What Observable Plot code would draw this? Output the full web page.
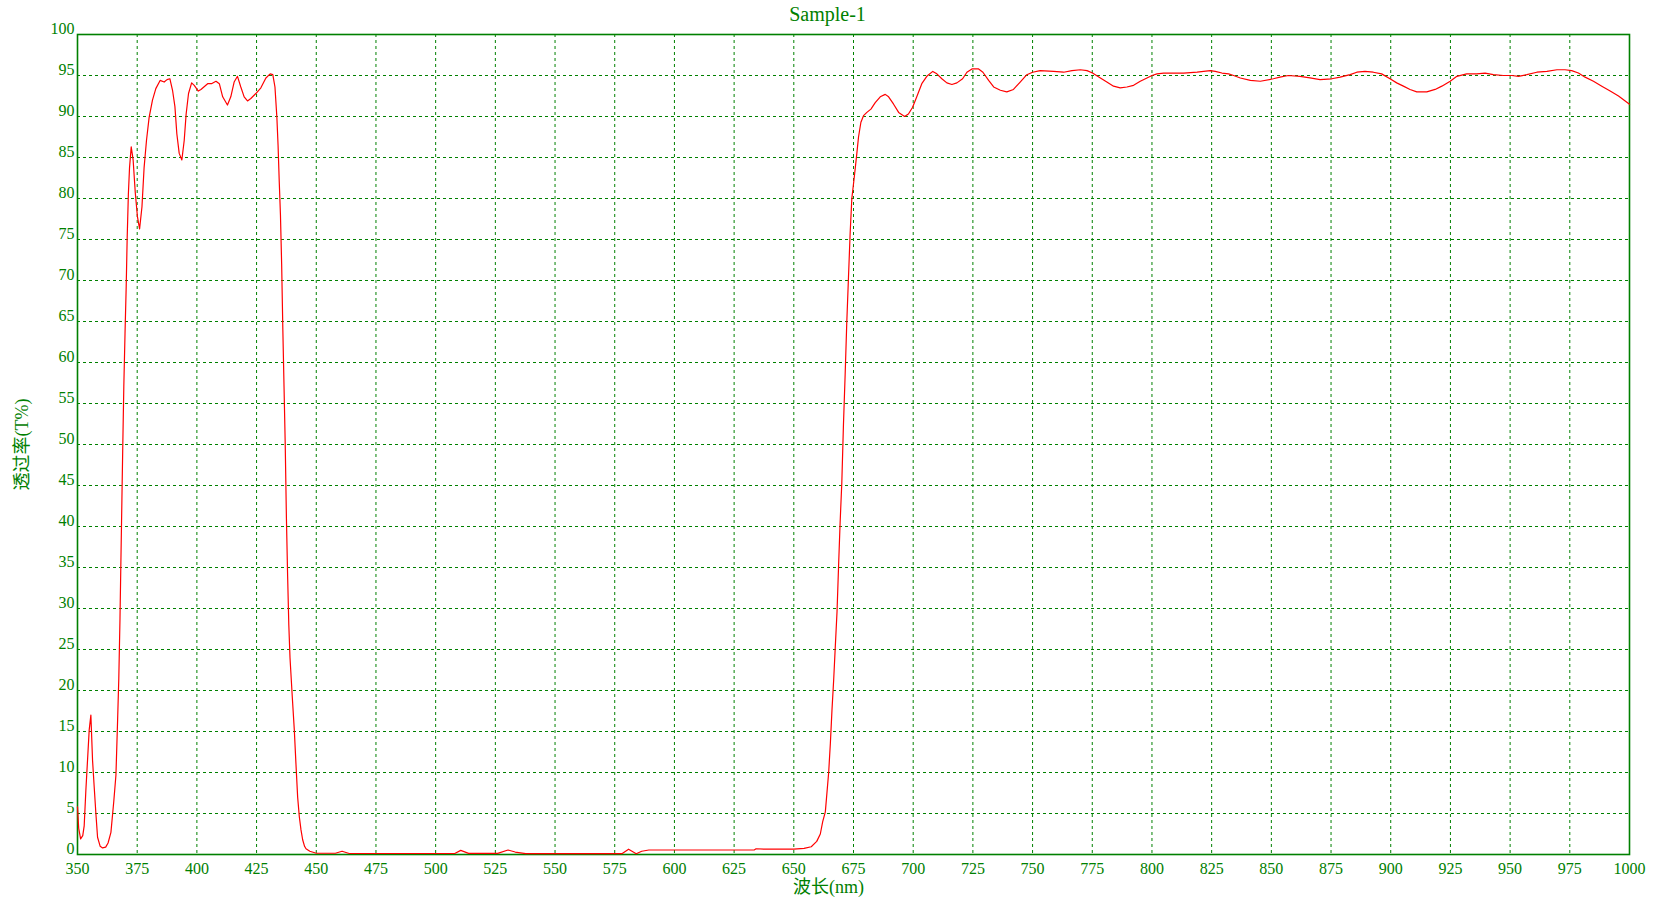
<!DOCTYPE html>
<html>
<head>
<meta charset="utf-8">
<script src="https://cdn.jsdelivr.net/npm/d3@7"></script>
<script src="https://cdn.jsdelivr.net/npm/@observablehq/plot@0.6"></script>
<style>
  html, body { margin: 0; padding: 0; background: #ffffff; }
  #chart { position: absolute; left: 0; top: 0; }
</style>
</head>
<body>
<div id="chart"></div>
<script>
const title = "Sample-1";
const xLabel = "波长(nm)";
const yLabel = "透过率(T%)";
const xTicks = [350,375,400,425,450,475,500,525,550,575,600,625,650,675,700,725,750,775,800,825,850,875,900,925,950,975,1000];
const yTicks = [0,5,10,15,20,25,30,35,40,45,50,55,60,65,70,75,80,85,90,95,100];

const wavelength = [
  350,350.5,351.3,352.2,352.8,353.5,354.2,354.9,355.6,356.3,357,357.7,358.4,359.5,360.5,361.8,362.8,364,365.2,366.1,
  366.8,367.3,367.8,368.2,368.6,369,369.4,369.9,370.4,370.8,371.3,371.8,372.5,373.3,374.2,375.1,376,377,377.9,378.9,
  380,381.4,382.8,384.6,386.3,387.5,388.7,389.8,390.8,391.6,392.6,393.7,394.7,395.5,396.5,397.8,398.9,400.6,401.7,404.5,
  406.1,408,409.4,410.8,412.8,414.2,415.6,417,418.4,419.8,421.2,422.6,424.7,426.8,428.9,430.7,431.8,432.7,433.5,434,
  434.5,435,435.5,436,436.5,437,437.5,438,438.5,439,440,440.8,441.5,442.2,442.9,443.6,444.3,445.1,445.7,447.3,
  450,458,460.8,463.8,508,510.5,513.8,526,530.3,533.3,537.7,578,580.8,584,586.3,589.3,633.4,634.2,637.9,650,
  654.3,657.3,659.6,661.1,662.1,663.2,664.6,665.3,666,666.7,667.4,668.1,668.8,669.4,670.1,670.8,671.5,672.2,672.9,673.6,
  674.3,675.4,676.4,677.1,678.1,679.2,680.6,682.3,684.1,686.2,688.3,689.7,691.8,693.9,696.4,698,699.7,701.5,703.6,705.7,
  708.2,709.9,712,714.1,716.2,718.3,720.7,722.5,724.6,727.4,729.2,731.6,733.7,736.5,739.2,742,744.8,747.6,750,753.2,
  758.8,763,766.5,770,772.8,775.1,778.4,781.1,783.9,786.7,789.5,792.3,795.1,797.9,800,802.1,804.9,813.3,818.9,824.4,
  826.5,829.3,832.1,834.2,837,841.2,845.4,850.8,853.6,857.1,862,866.2,870.4,875.3,878.8,883,885.8,889.2,892.7,896.2,
  899.7,902.5,905.3,908.1,910.9,915.1,918.6,921.4,924.9,927.7,931.8,936,939.5,943,947.2,950.7,953.5,957,961.2,965.4,
  969.6,973,975.8,978.6,981.4,984.9,988.4,991.9,995.4,998.2,1000
];
const transmittance = [
  5.8,3.2,1.9,2.3,3.5,7.8,11.5,15.2,17.0,11.5,8.2,5.0,2.1,1.0,0.8,0.9,1.4,2.7,6.5,9.7,
  16.4,21.5,28.8,36.2,43.3,50.5,57.1,63.5,69.3,75.1,80.5,83.8,86.3,84.7,80.7,77.8,76.3,79,83.8,87.1,
  89.9,92,93.4,94.4,94.2,94.5,94.6,93.2,91.2,87.9,85.5,84.7,87.1,90.3,92.8,94.1,93.8,93.1,93.3,94.0,
  94.0,94.3,94.0,92.4,91.4,92.4,94.2,94.9,93.6,92.4,91.9,92.2,92.8,93.5,94.7,95.2,95.1,93.6,89.9,86.5,
  82,78,72,64,57,50,41,34,28,24,19,15.2,11,7,4.6,3.0,1.8,1.0,0.7,0.4,
  0.15,0.15,0.4,0.12,0.12,0.5,0.13,0.13,0.55,0.3,0.1,0.1,0.65,0.1,0.4,0.55,0.55,0.7,0.65,0.65,
  0.75,0.95,1.6,2.5,4,5.2,10,13.5,17.7,21.3,25.5,29.6,35.6,40.5,45.3,52.5,58.5,65,70.4,75.8,
  80,82.8,85.5,87.5,89.3,90.1,90.5,90.9,91.7,92.4,92.7,92.4,91.5,90.5,90,90.3,91.1,92.4,94,94.9,
  95.5,95.2,94.6,94.1,93.9,94.1,94.6,95.4,95.8,95.8,95.4,94.4,93.6,93.2,93.0,93.3,94.2,95.1,95.4,95.6,
  95.5,95.4,95.6,95.7,95.6,95.3,94.7,94.2,93.7,93.5,93.6,93.8,94.3,94.7,95,95.2,95.3,95.3,95.4,95.6,
  95.5,95.3,95.2,95,94.7,94.4,94.3,94.6,94.8,95,94.9,94.7,94.5,94.6,94.8,95.1,95.4,95.5,95.4,95.2,
  94.6,94.1,93.7,93.3,93,93,93.3,93.7,94.3,94.9,95.2,95.2,95.3,95.1,95.0,95,94.9,95.1,95.4,95.5,
  95.7,95.7,95.6,95.3,94.8,94.3,93.7,93.1,92.5,91.9,91.5
];

const data = wavelength.map((w, i) => ({w, t: transmittance[i]}));
const green = "#008000";
const fontStack = "'Liberation Serif', 'Noto Sans CJK SC', serif";

const chart = Plot.plot({
  width: 1659,
  height: 900,
  marginLeft: 77,
  marginRight: 30,
  marginTop: 34,
  marginBottom: 46,
  style: {fontFamily: fontStack, fontSize: "16px", color: green, background: "#ffffff", overflow: "visible"},
  x: {domain: [350, 1000]},
  y: {domain: [0, 100]},
  marks: [
    Plot.gridX(xTicks.slice(1, -1), {stroke: green, strokeOpacity: 1, strokeWidth: 1, strokeDasharray: "3,3"}),
    Plot.gridY(yTicks.slice(1, -1), {stroke: green, strokeOpacity: 1, strokeWidth: 1, strokeDasharray: "3,3"}),
    Plot.axisX({ticks: xTicks, tickSize: 0, tickPadding: 8, tickFormat: d => String(d), fill: green,
      label: xLabel, labelAnchor: "center", labelArrow: "none", labelOffset: 38}),
    Plot.axisY({ticks: yTicks, tickSize: 0, tickPadding: 3, dy: -6, tickFormat: d => String(d), fill: green,
      label: yLabel, labelAnchor: "center", labelArrow: "none", labelOffset: 62}),
    Plot.frame({stroke: green, strokeWidth: 1.6}),
    Plot.line(data, {x: "w", y: "t", stroke: "#ff0000", strokeWidth: 1.2, curve: "linear"}),
    Plot.text([title], {frameAnchor: "top", lineAnchor: "bottom", dy: -14, dx: -26, fontSize: 20, fill: green})
  ]
});
document.getElementById("chart").appendChild(chart);

// nudge axis labels to match the reference placement
const xl = chart.querySelector('g[aria-label="x-axis label"]');
if (xl) { xl.setAttribute("transform", (xl.getAttribute("transform") || "") + " translate(-25,0)"); xl.style.fontSize = "18px"; }
const yl = chart.querySelector('g[aria-label="y-axis label"]');
if (yl) { yl.style.fontSize = "18px"; }
</script>
</body>
</html>
